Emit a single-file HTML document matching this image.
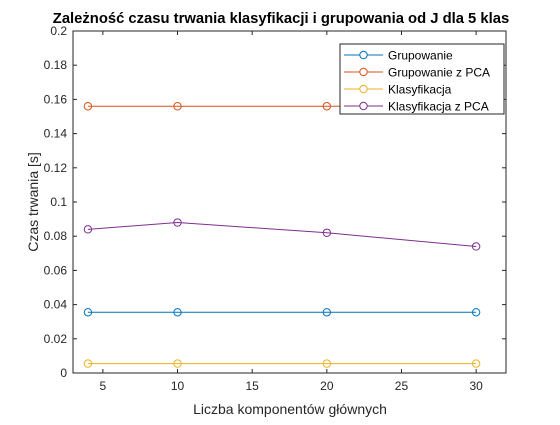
<!DOCTYPE html>
<html><head><meta charset="utf-8"><style>
body{margin:0;background:#fff;}
svg text{font-family:"Liberation Sans",sans-serif;}
</style></head><body>
<svg width="560" height="420">
<rect width="560" height="420" fill="#ffffff"/>
<rect x="73" y="31" width="433" height="342" fill="#fff"/>
<g id="ticks"></g>
<g id="series"></g>
<rect x="73" y="31" width="433" height="342" fill="none" stroke="#262626" stroke-width="1"/>
<text x="281" y="23" text-anchor="middle" font-size="14.8" font-weight="bold" fill="#000">Zależność czasu trwania klasyfikacji i grupowania od J dla 5 klas</text>
<text x="290" y="414" text-anchor="middle" font-size="14" fill="#262626">Liczba komponentów głównych</text>
<text x="0" y="0" transform="translate(38,202) rotate(-90)" text-anchor="middle" font-size="14" fill="#262626">Czas trwania [s]</text>
<g id="legend"></g>
</svg>
<script>
const xValues=[4,10,20,30];
const grupowanie=[0.0355,0.0355,0.0355,0.0355];
const grupowaniePCA=[0.156,0.156,0.156,0.156];
const klasyfikacja=[0.0055,0.0055,0.0055,0.0055];
const klasyfikacjaPCA=[0.084,0.088,0.082,0.074];
const xTicks=[5,10,15,20,25,30];
const yTicks=[0,0.02,0.04,0.06,0.08,0.1,0.12,0.14,0.16,0.18,0.2];
const seriesNames=["Grupowanie","Grupowanie z PCA","Klasyfikacja","Klasyfikacja z PCA"];
const colors=["#0072bd","#d95319","#edb120","#7e2f8e"];
const NS="http://www.w3.org/2000/svg";
const X0=73,X1=506,Y0=373,Y1=31,xmin=3,xmax=32,ymin=0,ymax=0.2;
const sx=v=>X0+(v-xmin)/(xmax-xmin)*(X1-X0);
const sy=v=>Y0-(v-ymin)/(ymax-ymin)*(Y0-Y1);
function mk(t,a,p){const e=document.createElementNS(NS,t);for(const k in a)e.setAttribute(k,a[k]);p.appendChild(e);return e;}
const tg=document.getElementById('ticks');
xTicks.forEach(v=>{
 let l=mk('line',{x1:sx(v),x2:sx(v),y1:Y0,y2:Y0-4,stroke:'#262626'},tg);
 
 
 l=mk('line',{x1:sx(v),x2:sx(v),y1:Y1,y2:Y1+4,stroke:'#262626'},tg);
 
 
 const t=mk('text',{x:sx(v),y:Y0+17,'text-anchor':'middle','font-size':12,fill:'#262626'},tg);t.textContent=v;
 
 
});
yTicks.forEach(v=>{
 let l=mk('line',{x1:X0,x2:X0+4,y1:sy(v),y2:sy(v),stroke:'#262626'},tg);
 
 
 l=mk('line',{x1:X1,x2:X1-4,y1:sy(v),y2:sy(v),stroke:'#262626'},tg);
 
 
 const t=mk('text',{x:X0-6,y:sy(v)+4,'text-anchor':'end','font-size':12,fill:'#262626'},tg);t.textContent=String(+v.toFixed(2));
 
 
});
const sg=document.getElementById('series');
[grupowanie,grupowaniePCA,klasyfikacja,klasyfikacjaPCA].forEach((d,i)=>{
 const pts=xValues.map((x,j)=>sx(x)+','+sy(d[j])).join(' ');
 const pl=mk('polyline',{points:pts,fill:'none',stroke:colors[i],'stroke-width':1},sg);
 
 
 xValues.forEach((x,j)=>{
  const c=mk('circle',{cx:sx(x),cy:sy(d[j]),r:3.7,fill:'none',stroke:colors[i]},sg);
  
  
 });
});
const lg=document.getElementById('legend');
const box=mk('rect',{x:340,y:44,width:164,height:70,fill:'#fff',stroke:'#262626'},lg);


seriesNames.forEach((n,i)=>{
 const y=55+i*17;
 const l=mk('line',{x1:344,x2:383,y1:y,y2:y,stroke:colors[i]},lg);
 
 
 const c=mk('circle',{cx:363.5,cy:y,r:3.7,fill:'#fff',stroke:colors[i]},lg);
 
 
 const t=mk('text',{x:388,y:y+4.5,'font-size':12,fill:'#000'},lg);t.textContent=n;
 
 
});
</script>
</body></html>
